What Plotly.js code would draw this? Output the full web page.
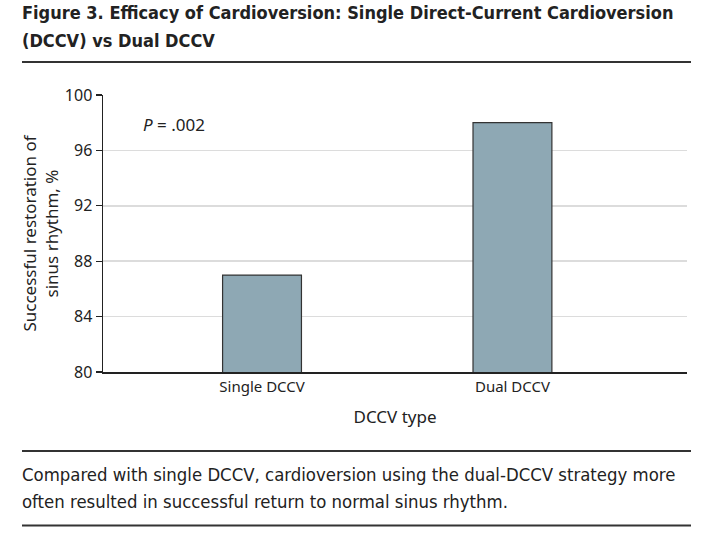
<!DOCTYPE html>
<html>
<head>
<meta charset="utf-8">
<script src="https://cdn.plot.ly/plotly-3.0.1.min.js"></script>
<style>html,body{margin:0;padding:0;background:#fff;}#chart{width:714px;height:537px;}</style>
</head>
<body>
<div id="chart"></div>
<script>
var categories = ["Single DCCV", "Dual DCCV"];
var successPct = [87, 98];
var yTicks = [80, 84, 88, 92, 96, 100];
var titleLines = ["Figure 3. Efficacy of Cardioversion: Single Direct-Current Cardioversion", "(DCCV) vs Dual DCCV"];
var captionLines = ["Compared with single DCCV, cardioversion using the dual-DCCV strategy more", "often resulted in successful return to normal sinus rhythm."];
var pText = "<i>P</i> = .002";

var W = 714, H = 537;
var L = 103, R = 27, T = 95, B = 165;
var pw = W - L - R, ph = H - T - B;
function px(x) { return (x - L) / pw; }
function py(y) { return (H - B - y) / ph; }

var FONT = "'DejaVu Sans Condensed', 'Noto Sans', sans-serif";
var FONT2 = "'Noto Sans', 'Open Sans', sans-serif";
var txt = "#222";

var trace = {
  type: "bar",
  x: [0, 1],
  y: successPct,
  width: 0.315,
  marker: { color: "#8ea8b4", line: { color: "#333", width: 1.2 } },
  hoverinfo: "none"
};

function textAnn(text, x, y, size, bold) {
  return { text: text, xref: "paper", yref: "paper", x: px(x), y: py(y), xanchor: "left", yanchor: "middle", align: "left", showarrow: false,
    font: { family: FONT, size: size, color: txt, weight: bold ? "bold" : "normal" } };
}

var layout = {
  width: W, height: H,
  margin: { l: L, r: R, t: T, b: B },
  paper_bgcolor: "#fff", plot_bgcolor: "#fff",
  showlegend: false,
  font: { family: FONT2, color: txt },
  xaxis: {
    range: [-0.635, 1.697],
    tickvals: [0, 1], ticktext: categories,
    showgrid: false, zeroline: false,
    showline: true, linecolor: "#222", linewidth: 1.5,
    ticks: "", ticklen: 0,
    tickfont: { family: FONT2, size: 15, color: txt },
    title: { text: "DCCV type", font: { family: FONT2, size: 17, color: txt }, standoff: 16 }
  },
  yaxis: {
    range: [80, 100],
    tickvals: yTicks,
    showgrid: true, gridcolor: "#dcdcdc", gridwidth: 1.5,
    zeroline: false,
    showline: true, linecolor: "#222", linewidth: 1.5,
    ticks: "outside", ticklen: 6, tickcolor: "#222", tickwidth: 1.2,
    tickfont: { family: FONT2, size: 16, color: txt },
    title: { text: "Successful restoration of<br>sinus rhythm, %", font: { family: FONT2, size: 17, color: txt }, standoff: 2 }
  },
  shapes: [
    { type: "line", xref: "paper", yref: "paper", x0: px(22), x1: px(691), y0: py(62), y1: py(62), line: { color: "#333", width: 2 } },
    { type: "line", xref: "paper", yref: "paper", x0: px(22), x1: px(691), y0: py(451), y1: py(451), line: { color: "#333", width: 2 } },
    { type: "line", xref: "paper", yref: "paper", x0: px(22), x1: px(691), y0: py(525.5), y1: py(525.5), line: { color: "#333", width: 2 } }
  ],
  annotations: [
    textAnn(titleLines[0], 20, 12.5, 18, true),
    textAnn(titleLines[1], 20, 41, 18, true),
    textAnn(captionLines[0], 20, 474.5, 18.4, false),
    textAnn(captionLines[1], 20, 501.5, 18.4, false),
    { text: pText, xref: "paper", yref: "paper", x: px(141), y: py(124), xanchor: "left", yanchor: "middle", showarrow: false,
      font: { family: FONT2, size: 17, color: txt } }
  ]
};

Plotly.newPlot("chart", [trace], layout, { displayModeBar: false, staticPlot: true });
</script>
</body>
</html>
